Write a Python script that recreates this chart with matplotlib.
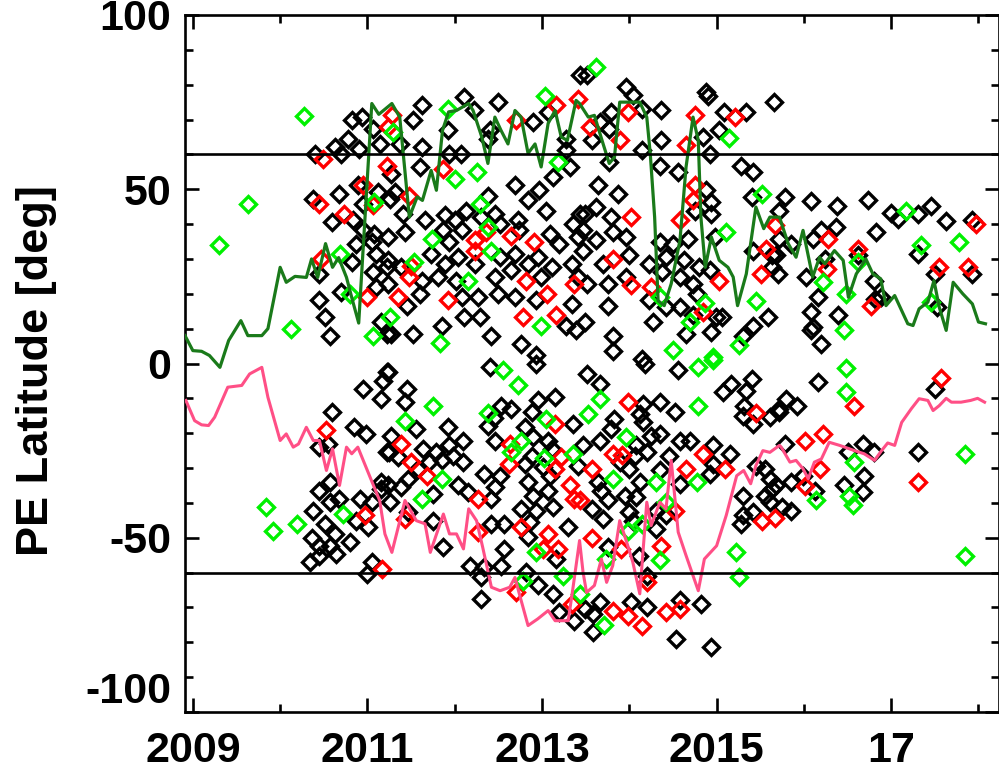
import matplotlib
matplotlib.use("Agg")
import matplotlib.pyplot as plt
from matplotlib.ticker import MultipleLocator, FixedLocator

plt.rcParams['font.family'] = ['Liberation Sans', 'DejaVu Sans']
plt.rcParams['font.weight'] = 'bold'
plt.rcParams['axes.unicode_minus'] = False

# -------------------------------
# Data: (year, latitude)
# -------------------------------
black_pts = [
    (2010.40, 60.2), (2010.63, 62.1), (2010.70, 60.2), (2010.78, 64.5), (2010.82, 69.8), (2010.94, 70.7),
    (2010.90, 61.6), (2011.06, 67.4), (2011.14, 63.1), (2010.67, 48.7), (2010.38, 47.3), (2010.89, 51.1),
    (2011.12, 49.2), (2010.59, 40.6), (2010.84, 41.1), (2010.95, 38.2), (2011.08, 37.2), (2010.87, 34.4),
    (2011.05, 34.8), (2010.82, 29.1), (2011.06, 26.2), (2010.44, 25.7), (2010.70, 20.5), (2010.45, 18.1),
    (2010.51, 13.3), (2010.57, 8.0), (2011.10, 21.9), (2011.16, 11.9), (2011.22, 8.5), (2011.22, 27.6),
    (2011.10, 31.5), (2010.95, 45.8),
    (2011.62, 74.1), (2011.52, 69.8), (2012.11, 76.5), (2012.50, 75.0), (2012.22, 72.6), (2011.92, 66.9),
    (2011.62, 62.1), (2011.37, 63.1), (2011.94, 60.2), (2012.07, 60.2), (2012.40, 66.9), (2012.38, 64.5),
    (2012.90, 69.3), (2013.07, 72.2), (2013.28, 64.5), (2013.44, 82.7), (2013.28, 61.2), (2013.32, 56.4),
    (2011.60, 56.4), (2011.27, 54.4), (2012.69, 51.1), (2012.97, 49.7), (2013.13, 53.5), (2011.26, 47.3),
    (2011.32, 49.2), (2011.41, 43.0), (2011.66, 41.1), (2011.89, 42.5), (2012.13, 43.9), (2012.38, 48.2),
    (2012.46, 43.0), (2012.73, 41.1), (2012.84, 46.8), (2013.05, 43.9), (2013.35, 40.1), (2013.43, 43.0),
    (2011.24, 36.3), (2011.43, 37.7), (2011.87, 38.2), (2012.00, 41.1), (2012.08, 38.2), (2011.94, 34.8),
    (2012.30, 42.0), (2012.52, 40.1), (2012.74, 38.2), (2013.09, 37.2), (2013.20, 34.4), (2013.41, 36.3),
    (2011.24, 29.6), (2011.39, 27.6), (2011.73, 31.5), (2011.89, 28.6), (2012.04, 30.5), (2012.23, 28.6),
    (2012.52, 30.5), (2012.69, 31.5), (2012.84, 28.6), (2012.95, 30.5), (2013.11, 27.6), (2013.34, 28.6),
    (2011.24, 22.9), (2011.62, 23.8), (2011.81, 24.8), (2012.02, 23.8), (2012.46, 24.8), (2012.65, 26.7),
    (2012.99, 24.8), (2013.41, 24.8), (2011.60, 20.0), (2011.45, 16.6), (2012.08, 19.0), (2012.27, 19.0),
    (2012.50, 20.0), (2012.69, 19.0), (2012.93, 18.1), (2013.34, 17.1), (2012.11, 13.3), (2012.29, 13.3),
    (2011.27, 8.5), (2011.52, 8.5), (2011.85, 10.9), (2012.42, 8.0), (2012.76, 5.6), (2013.28, 10.9),
    (2013.39, 9.5), (2012.93, 2.3),
    (2013.51, 82.7), (2013.96, 79.4), (2014.04, 77.0), (2014.88, 77.9), (2014.90, 76.8), (2015.66, 75.0),
    (2013.79, 72.2), (2014.36, 72.6), (2014.15, 73.1), (2015.09, 72.2), (2015.34, 72.2), (2013.66, 69.3),
    (2013.77, 67.4), (2013.57, 64.0), (2014.36, 64.0), (2014.84, 65.0), (2015.03, 66.9), (2014.15, 61.2),
    (2013.77, 57.8), (2014.35, 56.8), (2014.56, 54.9), (2014.92, 60.2), (2015.28, 56.8), (2015.42, 54.9),
    (2013.64, 51.1), (2013.87, 48.7), (2014.94, 46.3), (2014.88, 49.7), (2015.40, 47.8), (2013.49, 43.0),
    (2013.62, 44.9), (2013.79, 42.0), (2014.75, 43.9), (2014.94, 43.0), (2013.47, 38.2), (2013.62, 35.3),
    (2013.81, 37.7), (2013.96, 36.3), (2014.35, 34.8), (2014.50, 34.4), (2014.67, 35.8), (2014.98, 36.3),
    (2015.42, 32.4), (2015.64, 31.0), (2013.47, 32.4), (2013.70, 28.6), (2014.00, 31.0), (2014.23, 28.6),
    (2014.42, 30.5), (2014.63, 29.6), (2014.80, 27.6), (2013.96, 24.8), (2013.51, 22.9), (2013.76, 22.9),
    (2014.38, 26.2), (2014.58, 24.8), (2014.73, 22.9), (2014.92, 26.7), (2015.64, 27.6), (2014.23, 18.1),
    (2014.42, 16.2), (2014.58, 16.2), (2014.77, 20.0), (2013.76, 16.6), (2013.49, 11.9), (2014.27, 11.9),
    (2014.65, 8.5), (2014.73, 13.8), (2014.99, 13.3), (2015.06, 13.3), (2015.30, 8.0), (2015.42, 10.9),
    (2015.59, 13.3), (2013.81, 8.0), (2013.81, 3.7), (2014.94, 9.0), (2014.15, 1.3),
    (2015.78, 47.8), (2016.08, 46.6), (2016.38, 45.1), (2016.73, 46.8), (2015.71, 43.9), (2017.00, 43.1),
    (2017.08, 41.5), (2017.31, 42.8), (2017.46, 45.1), (2017.63, 40.8), (2017.92, 41.1), (2016.20, 38.2),
    (2016.37, 39.1), (2016.83, 37.7), (2015.72, 35.8), (2015.85, 34.4), (2016.10, 35.8), (2015.68, 31.0),
    (2016.24, 30.0), (2016.62, 31.0), (2017.31, 31.5), (2015.70, 25.7), (2016.02, 24.8), (2016.80, 23.8),
    (2017.50, 25.7), (2017.92, 25.7), (2016.16, 19.0), (2016.88, 19.0), (2016.82, 18.5), (2016.08, 14.8),
    (2016.39, 13.8), (2017.52, 16.2), (2016.08, 9.5), (2016.10, 10.5), (2016.20, 5.6),
    (2010.59, -14.0), (2010.95, -7.3), (2011.16, -10.1), (2011.18, -4.9), (2011.22, -2.5), (2010.85, -18.1),
    (2010.98, -20.2), (2010.45, -24.0), (2010.55, -23.1), (2011.22, -25.5), (2010.57, -34.1), (2010.44, -36.5),
    (2010.67, -38.9), (2010.91, -38.9), (2011.05, -39.8), (2010.38, -42.2), (2010.51, -46.0), (2010.87, -45.1),
    (2011.01, -47.0), (2010.36, -50.2), (2010.63, -48.9), (2010.80, -51.3), (2010.44, -52.3), (2010.57, -52.3),
    (2010.64, -54.7), (2010.45, -55.1), (2010.34, -57.0), (2011.05, -57.0), (2010.99, -60.4), (2011.16, -34.1),
    (2011.16, -36.0), (2010.57, -39.8),
    (2012.40, -1.1), (2012.93, -0.1), (2011.24, -2.5), (2011.45, -7.3), (2011.43, -11.1), (2013.15, -9.7),
    (2012.95, -10.6), (2012.53, -12.1), (2012.65, -13.0), (2012.88, -14.0), (2013.35, -17.3), (2012.38, -17.8),
    (2012.45, -15.5), (2012.80, -18.3), (2011.27, -20.7), (2011.56, -18.8), (2011.92, -18.3), (2012.10, -22.1),
    (2012.46, -22.1), (2012.90, -21.1), (2013.07, -22.1), (2011.25, -25.5), (2011.64, -24.5), (2011.79, -25.5),
    (2011.94, -23.5), (2011.98, -26.4), (2012.88, -26.4), (2013.11, -24.5), (2011.35, -26.9), (2011.70, -28.3),
    (2011.85, -27.8), (2012.10, -28.3), (2012.80, -28.8), (2013.01, -29.8), (2013.41, -29.3), (2011.47, -33.1),
    (2011.58, -30.2), (2012.34, -31.7), (2012.52, -32.2), (2012.84, -34.1), (2013.09, -32.2), (2011.24, -35.0),
    (2011.39, -35.5), (2012.04, -35.0), (2012.15, -36.9), (2012.46, -35.5), (2012.90, -37.9), (2013.07, -36.5),
    (2011.26, -39.8), (2011.75, -37.4), (2012.42, -38.9), (2012.76, -41.7), (2012.93, -42.2), (2013.13, -41.3),
    (2011.47, -42.7), (2011.75, -45.1), (2012.42, -46.0), (2012.57, -46.0), (2012.86, -45.6), (2013.30, -47.0),
    (2012.84, -49.8), (2011.87, -52.7), (2012.57, -53.2), (2013.16, -56.1), (2012.17, -58.0), (2012.34, -58.5),
    (2012.53, -58.0), (2012.82, -59.9), (2012.30, -61.4), (2012.95, -63.7), (2013.13, -66.1), (2012.30, -67.6),
    (2013.20, -71.4), (2013.37, -73.8),
    (2014.18, -0.1), (2014.56, -2.0), (2015.40, -4.4), (2015.17, -5.8), (2015.07, -8.2), (2015.34, -7.8),
    (2013.51, -3.0), (2013.66, -5.8), (2014.35, -11.1), (2014.16, -11.6), (2014.52, -14.0), (2015.31, -12.1),
    (2015.30, -15.0), (2015.42, -17.3), (2015.61, -15.4), (2015.72, -13.0), (2014.12, -14.5), (2014.16, -16.8),
    (2013.83, -15.9), (2013.79, -18.8), (2014.25, -20.7), (2014.35, -20.2), (2013.66, -22.1), (2013.47, -23.5),
    (2014.58, -22.1), (2014.70, -22.1), (2014.96, -23.5), (2015.15, -26.0), (2014.08, -23.5), (2014.06, -26.4),
    (2014.20, -25.5), (2014.46, -26.4), (2014.96, -28.8), (2014.92, -31.7), (2013.89, -28.3), (2014.00, -30.2),
    (2014.35, -30.7), (2014.12, -34.1), (2013.64, -34.1), (2014.58, -34.5), (2013.68, -36.5), (2013.95, -37.9),
    (2014.08, -38.4), (2013.76, -39.3), (2013.57, -41.7), (2013.70, -44.6), (2014.00, -42.7), (2014.30, -42.2),
    (2014.30, -47.5), (2014.04, -45.1), (2014.42, -43.6), (2015.30, -37.9), (2015.55, -37.9), (2015.61, -39.8),
    (2015.30, -43.6), (2015.28, -46.0), (2015.42, -42.7), (2015.61, -33.1), (2015.63, -36.0), (2015.45, -29.3),
    (2015.55, -30.2), (2013.76, -52.7), (2014.11, -55.1), (2014.20, -60.9), (2014.02, -68.5), (2014.20, -70.0),
    (2013.66, -68.5), (2013.49, -70.4), (2013.58, -71.9), (2013.58, -77.1), (2014.58, -68.0), (2014.82, -69.0),
    (2014.54, -79.0), (2014.94, -81.4),
    (2016.16, -5.2), (2017.50, -7.3), (2015.80, -10.1), (2015.92, -12.1), (2015.72, -14.0), (2015.78, -23.1),
    (2016.68, -23.1), (2016.50, -25.5), (2016.80, -25.5), (2017.31, -25.5), (2015.85, -34.1), (2015.99, -32.2),
    (2016.13, -36.5), (2016.69, -32.2), (2016.46, -35.0), (2016.68, -36.9), (2015.68, -35.0), (2015.75, -41.3),
    (2015.85, -42.2),
]

red_pts = [
    (2010.49, 58.8), (2010.45, 45.9), (2010.73, 43.0), (2010.95, 51.1), (2011.06, 45.4), (2010.47, 30.0),
    (2010.99, 19.0), (2011.28, 71.2), (2011.23, 67.9), (2011.22, 56.8),
    (2011.48, 48.2), (2011.87, 55.9), (2011.50, 28.1), (2011.48, 24.8), (2011.35, 19.0), (2011.92, 18.1),
    (2012.23, 35.3), (2012.36, 37.7), (2012.23, 32.4), (2012.64, 36.7), (2012.91, 34.8), (2012.82, 23.8),
    (2013.06, 20.0), (2013.37, 22.9), (2012.78, 13.3), (2013.16, 13.8), (2012.70, 69.8), (2013.16, 74.1),
    (2013.41, 76.0),
    (2013.55, 67.9), (2013.99, 72.2), (2013.89, 64.0), (2014.75, 71.2), (2015.21, 70.7), (2014.65, 62.6),
    (2014.75, 51.1), (2014.73, 46.8), (2014.02, 42.0), (2014.58, 41.1), (2013.81, 30.0), (2014.02, 22.4),
    (2014.25, 21.9), (2015.03, 23.8), (2015.51, 25.7), (2015.57, 32.9), (2014.84, 14.8), (2015.67, 39.8),
    (2016.28, 35.8), (2016.26, 27.2), (2016.62, 32.9), (2016.77, 16.6), (2017.55, 27.6), (2017.88, 27.6),
    (2017.97, 39.9),
    (2010.52, -19.2), (2010.97, -43.4), (2011.17, -59.0),
    (2011.38, -23.1), (2011.50, -28.3), (2011.68, -32.2), (2012.27, -39.0), (2011.43, -44.6), (2012.27, -48.4),
    (2012.63, -23.1), (2012.62, -28.8), (2013.15, -17.3), (2013.22, -26.9), (2013.15, -30.2), (2013.32, -34.8),
    (2013.37, -38.9), (2012.76, -47.0), (2013.07, -48.9), (2013.01, -53.2), (2013.18, -53.2), (2013.34, -69.0),
    (2012.70, -65.7),
    (2013.99, -11.1), (2015.45, -14.2), (2013.57, -30.2), (2013.81, -26.0), (2013.92, -26.3), (2014.84, -26.0),
    (2014.65, -30.2), (2015.10, -30.2), (2014.52, -42.2), (2015.52, -45.1), (2015.67, -44.2), (2013.57, -50.2),
    (2013.91, -53.2), (2014.36, -52.3), (2014.20, -62.6), (2013.81, -70.9), (2013.99, -72.4), (2014.42, -71.4),
    (2014.58, -70.4), (2014.14, -75.2), (2013.43, -39.3),
    (2017.57, -4.2), (2016.57, -12.1), (2016.01, -22.1), (2016.22, -20.2), (2016.19, -30.2), (2016.01, -35.2),
    (2017.31, -34.1),
]

green_pts = [
    (2010.27, 70.9), (2009.63, 45.8), (2009.30, 33.9), (2010.12, 10.0), (2010.68, 31.5), (2010.80, 20.0),
    (2011.06, 8.0), (2011.08, 46.3),
    (2011.92, 73.1), (2012.00, 53.0), (2012.25, 54.9), (2012.29, 45.9), (2012.38, 39.1), (2012.41, 32.4),
    (2011.74, 35.8), (2011.53, 29.1), (2012.15, 23.8), (2011.26, 13.3), (2011.83, 5.8), (2012.99, 10.9),
    (2013.03, 76.9), (2013.18, 57.8), (2011.29, 66.4),
    (2013.62, 85.1), (2015.14, 64.8), (2015.11, 37.7), (2015.52, 48.7), (2015.45, 17.9), (2014.87, 17.3),
    (2014.69, 11.9), (2014.50, 3.9), (2015.26, 5.2), (2014.96, 2.0), (2014.35, 19.0),
    (2017.17, 43.9), (2017.34, 33.9), (2017.78, 34.8), (2016.62, 29.1), (2016.22, 23.3), (2016.48, 19.8),
    (2016.46, 9.6), (2017.46, 17.6),
    (2009.84, -41.3), (2009.92, -48.2), (2010.19, -46.0), (2010.72, -43.2),
    (2012.55, -2.0), (2012.73, -6.2), (2011.75, -12.1), (2011.43, -16.4), (2012.38, -14.2), (2013.05, -15.9),
    (2012.76, -22.1), (2012.65, -25.5), (2013.02, -27.2), (2013.35, -26.0), (2011.85, -33.1), (2011.62, -38.9),
    (2012.93, -54.2), (2012.78, -62.3), (2013.24, -60.9), (2013.43, -66.1),
    (2014.79, -1.1), (2014.96, 0.9), (2013.66, -10.1), (2013.53, -14.5), (2014.79, -12.1), (2013.96, -21.2),
    (2013.81, -33.1), (2014.30, -34.1), (2014.77, -34.1), (2014.42, -39.8), (2013.99, -48.0), (2014.14, -46.0),
    (2013.73, -56.1), (2014.35, -56.3), (2015.22, -54.2), (2015.26, -61.4), (2013.71, -75.0),
    (2016.48, -1.3), (2016.48, -8.2), (2017.84, -26.0), (2016.57, -28.3), (2016.14, -39.3), (2016.52, -37.9),
    (2016.56, -40.6), (2017.84, -55.1),
]

# northern mean latitude (dark green line)
north_line = [
    (2008.91, 8.0), (2009.00, 3.7), (2009.10, 3.5), (2009.19, 2.3), (2009.31, -1.1), (2009.41, 6.6),
    (2009.55, 12.3), (2009.63, 8.0), (2009.79, 8.0), (2009.86, 10.0), (2010.00, 27.6), (2010.07, 23.3),
    (2010.17, 25.0), (2010.30, 24.7), (2010.36, 30.0), (2010.43, 24.7), (2010.52, 34.4), (2010.60, 27.6),
    (2010.67, 30.4), (2010.76, 24.7), (2010.83, 18.0), (2010.90, 11.6), (2010.97, 41.0), (2011.05, 74.6),
    (2011.13, 71.5), (2011.28, 74.6), (2011.37, 70.7), (2011.48, 42.0), (2011.57, 47.8), (2011.63, 46.8),
    (2011.73, 55.4), (2011.79, 49.7), (2011.86, 66.9), (2011.93, 72.2), (2012.02, 72.6), (2012.16, 74.6),
    (2012.21, 72.6), (2012.31, 65.0), (2012.38, 57.4), (2012.46, 70.7), (2012.53, 66.9), (2012.61, 63.0),
    (2012.69, 72.6), (2012.76, 70.7), (2012.84, 60.3), (2012.92, 63.0), (2012.99, 56.4), (2013.07, 68.9),
    (2013.15, 72.6), (2013.22, 65.0), (2013.29, 64.0), (2013.39, 75.5), (2013.43, 74.6), (2013.53, 70.7),
    (2013.60, 71.2), (2013.70, 63.0), (2013.77, 57.4), (2013.83, 59.2), (2013.89, 75.0), (2014.12, 75.0),
    (2014.20, 70.7), (2014.24, 60.2), (2014.29, 42.0), (2014.33, 18.0), (2014.40, 16.6), (2014.48, 22.9),
    (2014.58, 35.3), (2014.65, 56.4), (2014.73, 70.7), (2014.79, 64.0), (2014.82, 42.0), (2014.87, 27.6),
    (2014.94, 36.3), (2015.03, 29.6), (2015.13, 27.6), (2015.19, 24.8), (2015.24, 16.6), (2015.34, 25.7),
    (2015.45, 44.9), (2015.54, 38.7), (2015.61, 42.0), (2015.72, 42.0), (2015.82, 34.4), (2015.91, 30.5),
    (2015.99, 38.2), (2016.10, 24.8), (2016.18, 30.5), (2016.24, 28.6), (2016.35, 32.4), (2016.45, 29.6),
    (2016.51, 19.0), (2016.60, 25.7), (2016.71, 30.0), (2016.79, 25.7), (2016.88, 24.3), (2016.94, 16.6),
    (2017.04, 19.5), (2017.19, 11.4), (2017.25, 10.9), (2017.32, 15.7), (2017.42, 17.6), (2017.49, 23.8),
    (2017.55, 16.2), (2017.63, 9.5), (2017.71, 23.3), (2017.82, 20.0), (2017.93, 17.1), (2018.00, 11.9),
    (2018.08, 11.4),
]

# southern mean latitude (pink line)
south_line = [
    (2008.92, -10.6), (2009.02, -16.4), (2009.10, -17.6), (2009.18, -17.8), (2009.25, -15.4), (2009.40, -6.8),
    (2009.56, -6.3), (2009.65, -3.0), (2009.79, -1.1), (2009.86, -9.7), (2010.00, -22.1), (2010.07, -20.2),
    (2010.15, -24.0), (2010.21, -23.1), (2010.30, -18.3), (2010.38, -22.1), (2010.45, -22.1), (2010.53, -30.7),
    (2010.60, -24.5), (2010.68, -35.0), (2010.76, -24.0), (2010.82, -25.9), (2010.89, -24.0), (2011.03, -32.6),
    (2011.14, -39.3), (2011.20, -48.9), (2011.28, -54.2), (2011.43, -39.3), (2011.56, -45.1), (2011.66, -46.0),
    (2011.72, -54.2), (2011.87, -43.2), (2011.94, -48.9), (2012.02, -48.9), (2012.10, -53.2), (2012.16, -41.7),
    (2012.25, -45.1), (2012.32, -52.7), (2012.42, -64.2), (2012.52, -65.2), (2012.63, -64.2), (2012.69, -61.4),
    (2012.74, -66.1), (2012.84, -75.2), (2012.95, -73.3), (2013.07, -70.9), (2013.15, -73.8), (2013.30, -73.8),
    (2013.35, -65.2), (2013.43, -50.8), (2013.47, -59.9), (2013.51, -65.7), (2013.60, -63.7), (2013.68, -56.1),
    (2013.74, -62.8), (2013.81, -58.0), (2013.89, -45.1), (2013.97, -51.3), (2014.04, -57.0), (2014.12, -66.1),
    (2014.20, -39.8), (2014.25, -46.5), (2014.35, -39.8), (2014.42, -41.7), (2014.48, -27.8), (2014.56, -48.4),
    (2014.65, -55.1), (2014.79, -65.2), (2014.86, -56.1), (2015.00, -52.3), (2015.11, -43.6), (2015.23, -32.2),
    (2015.31, -30.7), (2015.39, -34.5), (2015.45, -29.3), (2015.53, -25.0), (2015.61, -25.5), (2015.72, -23.5),
    (2015.74, -24.0), (2015.84, -28.3), (2015.91, -27.8), (2015.99, -30.2), (2016.05, -33.1), (2016.12, -28.3),
    (2016.20, -27.4), (2016.29, -22.6), (2016.41, -23.5), (2016.58, -25.0), (2016.69, -25.9), (2016.81, -27.8),
    (2016.89, -25.0), (2016.96, -22.8), (2017.04, -23.5), (2017.12, -16.9), (2017.23, -13.0), (2017.32, -10.1),
    (2017.42, -10.6), (2017.48, -13.5), (2017.55, -12.1), (2017.63, -10.0), (2017.69, -11.1), (2017.80, -11.1),
    (2017.91, -10.6), (2017.99, -10.0), (2018.07, -11.1),
]

black_year = [p[0] for p in black_pts]
black_lat = [p[1] for p in black_pts]
red_year = [p[0] for p in red_pts]
red_lat = [p[1] for p in red_pts]
green_year = [p[0] for p in green_pts]
green_lat = [p[1] for p in green_pts]
north_year = [p[0] for p in north_line]
north_lat = [p[1] for p in north_line]
south_year = [p[0] for p in south_line]
south_lat = [p[1] for p in south_line]

# -------------------------------
# Plot
# -------------------------------
fig = plt.figure(figsize=(9.99, 7.72), dpi=100)
ax = fig.add_axes([185 / 999, 60 / 772, 814 / 999, 697 / 772])

mk = dict(marker='D', linestyle='none', markersize=8.0, markeredgewidth=2.4, markerfacecolor='none')
ax.plot(black_year, black_lat, markeredgecolor='black', zorder=2, **mk)
ax.plot(red_year, red_lat, markeredgecolor='#ff0000', zorder=3, **mk)
ax.plot(green_year, green_lat, markeredgecolor='#00f000', zorder=3, **mk)

ax.plot(north_year, north_lat, color='#1a7a1a', linewidth=2.3, zorder=4)
ax.plot(south_year, south_lat, color='#ff4f86', linewidth=2.2, zorder=4)

ax.axhline(60, color='black', linewidth=1.9, zorder=5)
ax.axhline(-60, color='black', linewidth=1.9, zorder=5)

ax.set_xlim(2008.91, 2018.235)
ax.set_ylim(-100, 100)

ax.xaxis.set_major_locator(FixedLocator([2009, 2011, 2013, 2015, 2017]))
ax.set_xticklabels(['2009', '2011', '2013', '2015', '17'])
ax.xaxis.set_minor_locator(MultipleLocator(1))
ax.yaxis.set_major_locator(MultipleLocator(50))
ax.yaxis.set_minor_locator(MultipleLocator(10))

ax.tick_params(which='both', direction='in', top=True, right=True, width=1.9, labelsize=31)
ax.tick_params(which='major', length=10)
ax.tick_params(which='minor', length=5.5)
ax.tick_params(axis='x', which='major', pad=14)
ax.tick_params(axis='y', which='major', pad=10)
for s in ax.spines.values():
    s.set_linewidth(1.9)

for lab in ax.get_yticklabels():
    if lab.get_text() == '-100':
        lab.set_verticalalignment('bottom')

fig.text(37 / 999, 0.52, 'PE Latitude [deg]', rotation=90, ha='center', va='center',
         fontsize=32.5, fontweight='bold')

fig.savefig('out.png', dpi=100)
